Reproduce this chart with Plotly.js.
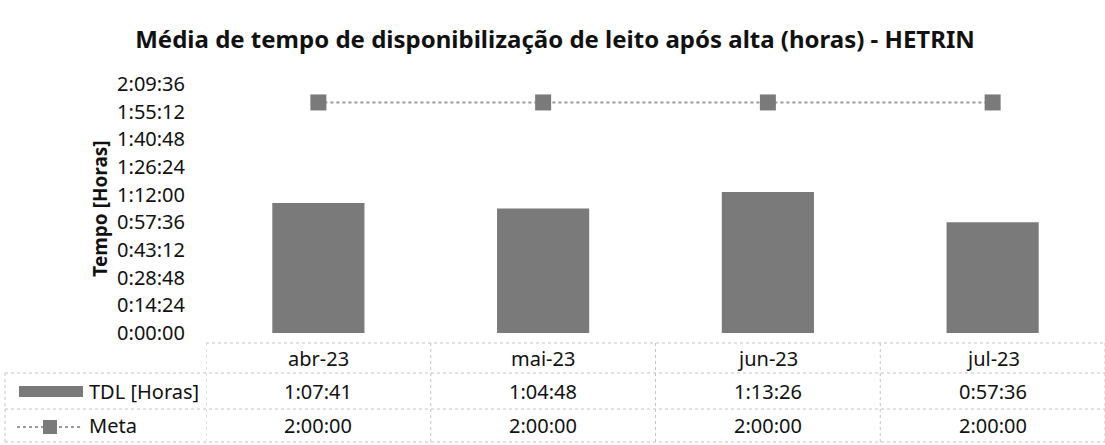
<!DOCTYPE html>
<html>
<head>
<meta charset="utf-8">
<script src="https://cdn.plot.ly/plotly-3.0.1.min.js"></script>
<style>html,body{margin:0;padding:0;background:#fff;}#chart{width:1105px;height:445px;}</style>
</head>
<body>
<div id="chart"></div>
<script>
// ---- data ----
const categories = ["abr-23", "mai-23", "jun-23", "jul-23"];
const tdlValues = ["1:07:41", "1:04:48", "1:13:26", "0:57:36"];
const metaValues = ["2:00:00", "2:00:00", "2:00:00", "2:00:00"];
const yTickLabels = ["0:00:00", "0:14:24", "0:28:48", "0:43:12", "0:57:36", "1:12:00", "1:26:24", "1:40:48", "1:55:12", "2:09:36"];
const seriesNames = ["TDL [Horas]", "Meta"];

function toSec(s) {
  const p = s.split(":").map(Number);
  return p[0] * 3600 + p[1] * 60 + p[2];
}
const tdlSec = tdlValues.map(toSec);
const metaSec = metaValues.map(toSec);
const tickVals = yTickLabels.map(toSec);

// ---- geometry helpers (pixel -> paper) ----
const W = 1105, H = 445;
const mL = 206, mR = 0, mT = 84, mB = 112;
const plotW = W - mL - mR, plotH = H - mT - mB;
const px = x => (x - mL) / plotW;
const py = y => (H - mB - y) / plotH;

const barColor = "#7a7a7a";
const lineColor = "#9a9a9a";
const gridColor = "#c4c4c4";
const fontFam = "Noto Sans, Open Sans, sans-serif";

const traces = [
  {
    type: "bar", x: categories, y: tdlSec, name: seriesNames[0],
    width: 0.41, marker: {color: barColor}, showlegend: false
  },
  {
    type: "scatter", mode: "lines+markers", x: categories, y: metaSec, name: seriesNames[1],
    line: {color: lineColor, width: 2, dash: "dot"},
    marker: {symbol: "square", size: 16, color: barColor}, showlegend: false, cliponaxis: false
  }
];

const shapes = [];
const annotations = [];
const dotLine = {color: gridColor, width: 1, dash: "dot"};

// table horizontal lines
const yTop = 343, yR1 = 373, yR2 = 409, yBot = 442;
shapes.push({type: "line", xref: "paper", yref: "paper", x0: px(206), x1: px(1105), y0: py(yTop), y1: py(yTop), line: dotLine});
[yR1, yR2, yBot].forEach(y => shapes.push({type: "line", xref: "paper", yref: "paper", x0: px(5), x1: px(1105), y0: py(y), y1: py(y), line: dotLine}));
// verticals at category boundaries
for (let i = 0; i <= categories.length; i++) {
  shapes.push({type: "line", xref: "x", yref: "paper", x0: i - 0.5, x1: i - 0.5, y0: py(yTop), y1: py(yBot), line: dotLine});
}
// left edge of row-header column
shapes.push({type: "line", xref: "paper", yref: "paper", x0: px(5), x1: px(5), y0: py(yR1), y1: py(yBot), line: dotLine});

// legend keys
shapes.push({type: "rect", xref: "paper", yref: "paper", x0: px(19), x1: px(83), y0: py(397), y1: py(386), fillcolor: barColor, line: {width: 0}});
shapes.push({type: "line", xref: "paper", yref: "paper", x0: px(17), x1: px(83), y0: py(427), y1: py(427), line: {color: lineColor, width: 2, dash: "dot"}});
shapes.push({type: "rect", xref: "paper", yref: "paper", x0: px(43), x1: px(57), y0: py(434), y1: py(420), fillcolor: barColor, line: {width: 0}});

const cellFont = {family: fontFam, size: 20, color: "#111"};
const rowY = [358, 391, 425];
categories.forEach((c, i) => {
  annotations.push({xref: "x", yref: "paper", x: i, y: py(rowY[0]), text: c, showarrow: false, font: cellFont, xanchor: "center", yanchor: "middle"});
  annotations.push({xref: "x", yref: "paper", x: i, y: py(rowY[1]), text: tdlValues[i], showarrow: false, font: cellFont, xanchor: "center", yanchor: "middle"});
  annotations.push({xref: "x", yref: "paper", x: i, y: py(rowY[2]), text: metaValues[i], showarrow: false, font: cellFont, xanchor: "center", yanchor: "middle"});
});
annotations.push({xref: "paper", yref: "paper", x: px(87), y: py(rowY[1]), text: seriesNames[0], showarrow: false, font: cellFont, xanchor: "left", yanchor: "middle"});
annotations.push({xref: "paper", yref: "paper", x: px(87), y: py(rowY[2]), text: seriesNames[1], showarrow: false, font: cellFont, xanchor: "left", yanchor: "middle"});

const layout = {
  width: W, height: H,
  margin: {l: mL, r: mR, t: mT, b: mB},
  paper_bgcolor: "#fff", plot_bgcolor: "#fff",
  font: {family: fontFam, color: "#111"},
  title: {
    text: "Média de tempo de disponibilização de leito após alta (horas) - HETRIN",
    font: {family: fontFam, size: 24, weight: "bold", color: "#111"},
    xref: "container", yref: "container", x: 555 / W, y: 1 - 40 / H, xanchor: "center", yanchor: "middle"
  },
  xaxis: {
    type: "category", range: [-0.5, categories.length - 0.5],
    showticklabels: false, showgrid: false, zeroline: false, showline: false, ticks: ""
  },
  yaxis: {
    range: [0, tickVals[tickVals.length - 1]],
    tickvals: tickVals, ticktext: yTickLabels,
    tickfont: {family: fontFam, size: 20, color: "#111"},
    ticklabelstandoff: 20,
    showgrid: false, zeroline: false, showline: false, ticks: "",
    title: {text: "Tempo [Horas]", font: {family: fontFam, size: 19, weight: "bold", color: "#111"}, standoff: 4}
  },
  shapes: shapes,
  annotations: annotations,
  showlegend: false
};

Plotly.newPlot("chart", traces, layout, {displayModeBar: false, staticPlot: true});
</script>
</body>
</html>
